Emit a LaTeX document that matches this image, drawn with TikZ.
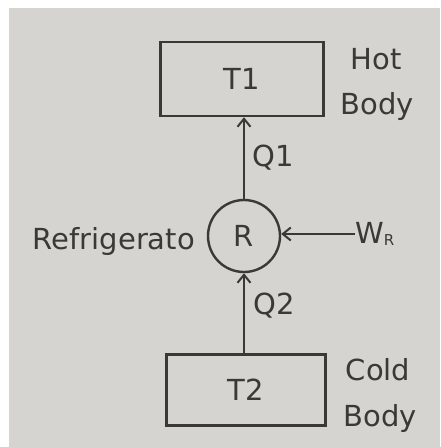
\documentclass[tikz,border=0pt]{standalone}
\usepackage{fontspec}
\setmainfont{DejaVu Sans}
\usepackage{xcolor}
\usetikzlibrary{positioning, arrows.meta}
\definecolor{paper}{RGB}{214,212,208}
\definecolor{ink}{RGB}{58,57,54}

\begin{document}
\begin{tikzpicture}[
    x=1pt, y=-1pt,
    font=\fontsize{29}{33}\selectfont, text=ink,
    body/.style={rectangle, draw=ink, line width=2.4pt, inner sep=0pt},
    machine/.style={circle, draw=ink, line width=2.4pt, minimum size=72pt, inner sep=0pt},
    word/.style={inner sep=0pt, align=left},
    arrow/.style={-{Straight Barb[length=8pt, width=13pt]}, draw=ink, line width=2pt}
]
\useasboundingbox (0,0) rectangle (440,447);
\fill[white] (0,0) rectangle (440,447);
\fill[paper] (9,8) rectangle (440,447);

\node[body, minimum width=163pt, minimum height=74pt] (t1) at (242,79) {T1};
\node[body, minimum width=159pt, minimum height=71pt] (t2) at (246,390) {T2};
\node[machine] (r) at (244,236) {R};

\node[word] (hot) at (376,59) {Hot};
\node[word] (hotbody) at (377,106) {Body};
\node[word] (cold) at (378,370) {Cold};
\node[word] (coldbody) at (380,418) {Body};

\node[word, anchor=east] (name) at (195,241) {Refrigerato};
\node[word, anchor=west] (wr) at (355,234) {W\raisebox{-2pt}{\fontsize{15}{15}\selectfont R}};
\node[word] (q1) at (273,158) {Q1};
\node[word] (q2) at (274,306) {Q2};

\draw[arrow] (r.north) -- (t1.south -| r.north);
\draw[arrow] (t2.north -| r.south) -- (r.south);
\draw[arrow] (wr.west) -- (wr.west -| r.east);
\end{tikzpicture}
\end{document}
